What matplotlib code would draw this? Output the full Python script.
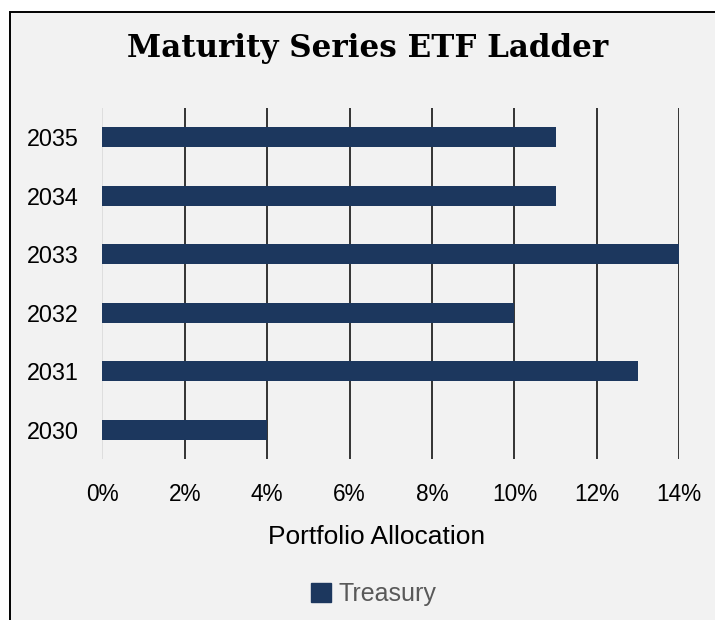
import matplotlib
matplotlib.use("Agg")
import matplotlib.pyplot as plt
from matplotlib.patches import Rectangle

# data
years = ["2030", "2031", "2032", "2033", "2034", "2035"]
allocation = [4, 13, 10, 14, 11, 11]  # percent
series_name = "Treasury"
xticks = [0, 2, 4, 6, 8, 10, 12, 14]

bar_color = "#1c375e"
bg = "#f2f2f2"

plt.rcParams["font.family"] = ["Liberation Sans", "DejaVu Sans"]

fig = plt.figure(figsize=(7.15, 6.2), dpi=100, facecolor="white")

# chart frame (cropped on the right and bottom)
frame = Rectangle((10 / 715, -0.1), 1.2, 1.1 - 12 / 620,
                  transform=fig.transFigure, facecolor=bg,
                  edgecolor="black", linewidth=1.4, zorder=-10)
fig.patches.append(frame)

ax = fig.add_axes([102.3 / 715, 161 / 620, 577 / 715, 351 / 620])
ax.set_facecolor("none")

ax.barh(range(len(years)), allocation, height=0.34, color=bar_color, zorder=3)

ax.set_xlim(0, 14)
ax.set_ylim(-0.5, len(years) - 0.5)
ax.set_xticks(xticks)
ax.set_xticklabels([f"{v}%" for v in xticks], fontsize=16.3)
ax.set_yticks(range(len(years)))
ax.set_yticklabels(years, fontsize=16.8)
ax.tick_params(length=0)
ax.tick_params(axis="x", pad=17)
ax.tick_params(axis="y", pad=17)

for v in xticks[1:]:
    ax.axvline(v, color="black", linewidth=1.1, zorder=1)
ax.axvline(0, color="#d9d9d9", linewidth=1.1, zorder=1)
for s in ax.spines.values():
    s.set_visible(False)

ax.set_xlabel("Portfolio Allocation", fontsize=19)
ax.xaxis.set_label_coords(0.475, -0.222)
ax.xaxis.label.set_va("center")

fig.text(368 / 715, 1 - 48 / 620, "Maturity Series ETF Ladder",
         ha="center", va="center", fontsize=22.3, fontweight="bold",
         family=["DejaVu Serif"])

leg = fig.legend([plt.Rectangle((0, 0), 1, 1, color=bar_color)], [series_name],
                 loc="center", bbox_to_anchor=(374 / 715, 1 - 594 / 620),
                 frameon=False, fontsize=18, handlelength=0.8, handleheight=0.8,
                 handletextpad=0.3)
for t in leg.get_texts():
    t.set_color("#595959")

fig.savefig("out.png", dpi=100, facecolor="white")
